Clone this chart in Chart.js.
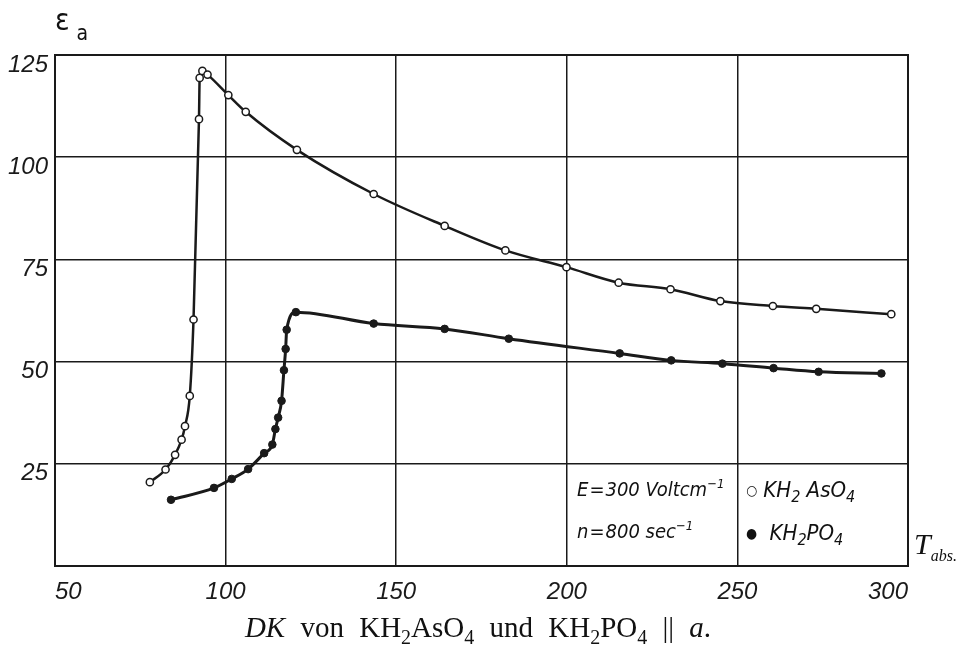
<!DOCTYPE html>
<html>
<head>
<meta charset="utf-8">
<script src="https://cdn.jsdelivr.net/npm/chart.js@4/dist/chart.umd.min.js"></script>
<style>
  html, body { margin: 0; padding: 0; background: #fff; }
  #wrap { position: relative; width: 956px; height: 653px; overflow: hidden; background: #fff; }
  canvas { position: absolute; left: 0; top: 0; }
  .lbl { position: absolute; color: #111; white-space: nowrap; line-height: 1; }
  .sans { font-family: "DejaVu Sans Condensed", "DejaVu Sans", sans-serif; font-style: italic; }
  .serif { font-family: "Liberation Serif", "DejaVu Serif", serif; }
  sub, sup { line-height: 0; }
</style>
</head>
<body>
<div id="wrap">
  <canvas id="c" width="956" height="653"></canvas>
  <div class="lbl sans" style="left:55px; top:5px; font-size:30px; font-style:normal;">&#949;<sub style="font-size:21px; position:relative; top:3px; margin-left:7px;">a</sub></div>
  <div class="lbl sans" style="left:577px; top:479px; font-size:20px;">E<span style="margin:0 1px;">=</span>300 Voltcm<sup style="font-size:13px;">&#8722;1</sup></div>
  <div class="lbl sans" style="left:577px; top:521px; font-size:20px;">n<span style="margin:0 1px;">=</span>800 sec<sup style="font-size:13px;">&#8722;1</sup></div>
  <div class="lbl sans" style="left:746px; top:479px; font-size:22px;"><span style="font-size:14px; font-style:normal; position:relative; top:-2px;">&#9675;</span>&nbsp;KH<sub style="font-size:16px;">2</sub>&nbsp;AsO<sub style="font-size:16px;">4</sub></div>
  <div class="lbl sans" style="left:746px; top:522px; font-size:22px;"><span style="font-size:14px; font-style:normal; position:relative; top:-2px;">&#9679;</span>&nbsp;&nbsp;KH<sub style="font-size:16px;">2</sub>PO<sub style="font-size:16px;">4</sub></div>
  <div class="lbl serif" style="left:914px; top:529px; font-size:30px; font-style:italic;">T<sub style="font-size:16px;">abs.</sub></div>
  <div class="lbl serif" style="left:0; width:956px; text-align:center; top:613px; font-size:29px; word-spacing:8px;"><i>DK</i> von KH<sub style="font-size:20px;">2</sub>AsO<sub style="font-size:20px;">4</sub> und KH<sub style="font-size:20px;">2</sub>PO<sub style="font-size:20px;">4</sub> || <i>a</i>.</div>
</div>
<script>
// KH2AsO4 (open circles)
const asTemp = [77.8, 82.4, 85.2, 87.1, 88.1, 89.5, 90.6, 92.2, 92.4, 93.2, 94.7, 100.8, 105.9, 120.9, 143.4, 164.2, 182.0, 199.9, 215.2, 230.4, 245.0, 260.4, 273.1, 295.1];
const asEps  = [20.5, 23.6, 27.2, 30.9, 34.2, 41.6, 60.3, 109.3, 119.4, 121.1, 120.2, 115.2, 111.1, 101.8, 91.0, 83.2, 77.2, 73.1, 69.3, 67.7, 64.8, 63.6, 62.9, 61.6];
// KH2PO4 (filled circles)
const poTemp = [84.0, 96.6, 101.8, 106.6, 111.3, 113.7, 114.6, 115.4, 116.4, 117.1, 117.6, 117.9, 120.6, 143.4, 164.2, 183.0, 215.5, 230.6, 245.6, 260.6, 273.8, 292.2];
const poEps  = [16.2, 19.1, 21.3, 23.7, 27.6, 29.7, 33.5, 36.3, 40.4, 47.9, 53.1, 57.8, 62.1, 59.3, 58.0, 55.6, 52.0, 50.3, 49.5, 48.4, 47.5, 47.1];
// axis ticks
const xTicks = [50, 100, 150, 200, 250, 300];
const yTicks = [0, 25, 50, 75, 100, 125];

const toXY = (xs, ys) => xs.map((x, i) => ({ x: x, y: ys[i] }));
const tickFont = { family: '"Liberation Sans", Arial, sans-serif', style: 'italic', size: 24 };
const ink = '#1a1a1a';

new Chart(document.getElementById('c'), {
  type: 'scatter',
  data: {
    datasets: [
      {
        label: 'KH2AsO4',
        data: toXY(asTemp, asEps),
        showLine: true,
        cubicInterpolationMode: 'monotone',
        borderColor: ink,
        borderWidth: 2.5,
        pointRadius: 3.6,
        pointBorderWidth: 1.5,
        pointBackgroundColor: '#fff',
        pointBorderColor: ink
      },
      {
        label: 'KH2PO4',
        data: toXY(poTemp, poEps),
        showLine: true,
        cubicInterpolationMode: 'monotone',
        borderColor: ink,
        borderWidth: 3,
        pointRadius: 3.8,
        pointBorderWidth: 1,
        pointBackgroundColor: ink,
        pointBorderColor: ink
      }
    ]
  },
  options: {
    responsive: false,
    animation: false,
    layout: { padding: { top: 55, right: 48, left: 0, bottom: 0 } },
    plugins: { legend: { display: false }, tooltip: { enabled: false } },
    scales: {
      x: {
        type: 'linear',
        min: xTicks[0], max: xTicks[xTicks.length - 1],
        afterBuildTicks: s => { s.ticks = xTicks.map(v => ({ value: v })); },
        afterFit: s => { s.height = 87; },
        grid: { color: ink, lineWidth: 1.5, drawTicks: false },
        border: { color: ink, width: 2 },
        ticks: { font: tickFont, color: ink, padding: 12, align: 'inner', maxRotation: 0 }
      },
      y: {
        type: 'linear',
        min: yTicks[0], max: yTicks[yTicks.length - 1],
        afterBuildTicks: s => { s.ticks = yTicks.map(v => ({ value: v })); },
        afterFit: s => { s.width = 55; },
        grid: { color: ink, lineWidth: 1.5, drawTicks: false },
        border: { color: ink, width: 2 },
        ticks: { font: tickFont, color: ink, padding: 7, labelOffset: 10, callback: v => v === 0 ? '' : String(v) }
      }
    }
  },
  plugins: [{
    id: 'frame',
    afterDraw(chart) {
      const a = chart.chartArea, ctx = chart.ctx;
      ctx.save();
      ctx.strokeStyle = ink; ctx.lineWidth = 2;
      ctx.strokeRect(a.left, a.top, a.right - a.left, a.bottom - a.top);
      ctx.restore();
    }
  }]
});
</script>
</body>
</html>
